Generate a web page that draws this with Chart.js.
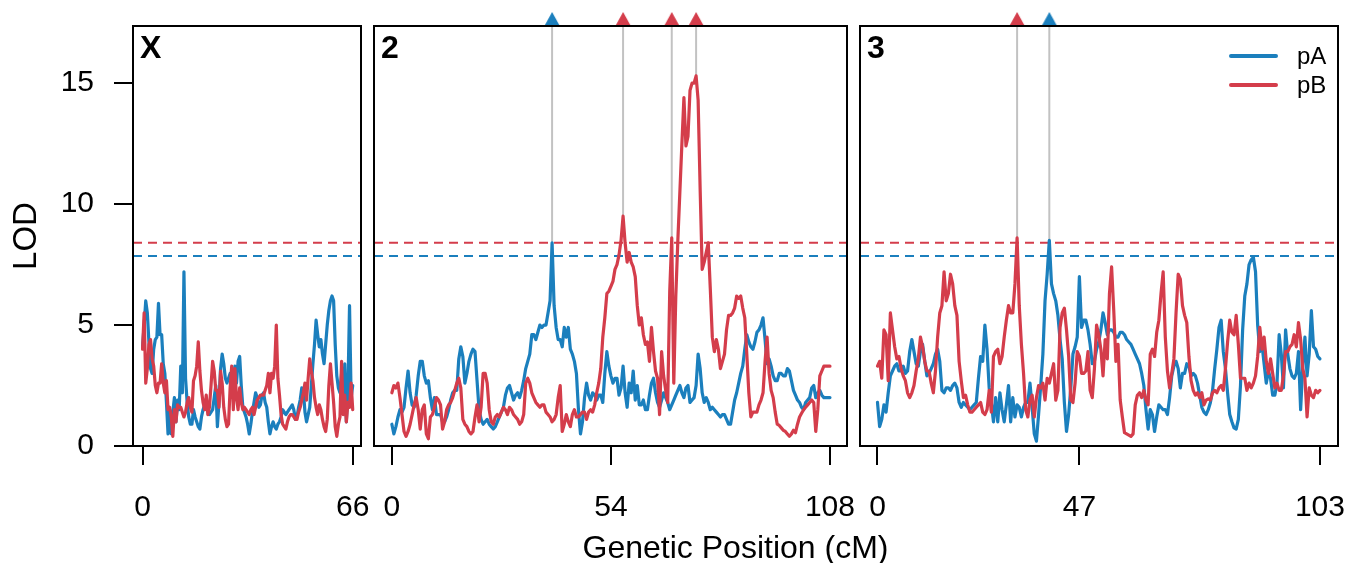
<!DOCTYPE html>
<html>
<head>
<meta charset="utf-8">
<script src="https://cdn.jsdelivr.net/npm/chart.js@4.4.1/dist/chart.umd.min.js"></script>
<style>
html,body{margin:0;padding:0;background:#fff;}
#wrap{position:relative;width:1348px;height:563px;overflow:hidden;background:#fff;font-family:"Liberation Sans",Arial,Helvetica,sans-serif;}
#wrap canvas{position:absolute;left:0;top:0;}
#xtitle{position:absolute;left:435px;width:601px;top:529px;text-align:center;font-size:32px;line-height:36px;color:#000;white-space:nowrap;}
</style>
</head>
<body>
<div id="wrap">
<canvas id="cX" width="1348" height="563"></canvas>
<canvas id="c2" width="1348" height="563"></canvas>
<canvas id="c3" width="1348" height="563"></canvas>
<div id="xtitle">Genetic Position (cM)</div>
</div>
<script>
// ---------- data ----------
const seriesNames = ['pA', 'pB'];
const yTicks = [0, 5, 10, 15];
const Y_MAX = 17.36;
const thrA = 7.85;   // pA significance threshold
const thrB = 8.4;    // pB significance threshold

const chrLabels = ['X', '2', '3'];
const xTicksX = [0, 66];
const xTicks2 = [0, 54, 108];
const xTicks3 = [0, 47, 103];

// pseudomarker grid (cM)
const gridPos = [
0,0.5,1,1.5,2,2.5,3,3.5,4,4.5,5,5.5,6,6.5,7,7.5,8,8.5,9,9.5,
10,10.5,11,11.5,12,12.5,13,13.5,14,14.5,15,15.5,16,16.5,17,17.5,18,18.5,19,19.5,
20,20.5,21,21.5,22,22.5,23,23.5,24,24.5,25,25.5,26,26.5,27,27.5,28,28.5,29,29.5,
30,30.5,31,31.5,32,32.5,33,33.5,34,34.5,35,35.5,36,36.5,37,37.5,38,38.5,39,39.5,
40,40.5,41,41.5,42,42.5,43,43.5,44,44.5,45,45.5,46,46.5,47,47.5,48,48.5,49,49.5,
50,50.5,51,51.5,52,52.5,53,53.5,54,54.5,55,55.5,56,56.5,57,57.5,58,58.5,59,59.5,
60,60.5,61,61.5,62,62.5,63,63.5,64,64.5,65,65.5,66,66.5,67,67.5,68,68.5,69,69.5,
70,70.5,71,71.5,72,72.5,73,73.5,74,74.5,75,75.5,76,76.5,77,77.5,78,78.5,79,79.5,
80,80.5,81,81.5,82,82.5,83,83.5,84,84.5,85,85.5,86,86.5,87,87.5,88,88.5,89,89.5,
90,90.5,91,91.5,92,92.5,93,93.5,94,94.5,95,95.5,96,96.5,97,97.5,98,98.5,99,99.5,
100,100.5,101,101.5,102,102.5,103,103.5,104,104.5,105,105.5,106,106.5,107,107.5,108];
const posX = gridPos.slice(0, 133);
const pos2 = gridPos.slice(0, 217);
const pos3 = gridPos.slice(0, 207);

// chromosome X
const lodX_pA = [
4.1,5.0,6.0,5.5,4.3,3.2,3.0,4.0,4.4,4.5,
5.9,4.6,4.6,3.4,3.0,1.8,0.5,1.5,0.5,1.4,
2.0,1.0,1.9,1.5,3.3,2.2,7.2,2.8,1.8,1.2,
0.9,0.9,1.5,1.2,1.0,0.8,0.7,1.2,1.5,1.7,
1.8,1.5,1.3,1.4,1.5,2.0,2.5,0.8,1.8,3.2,
3.8,3.4,2.8,2.6,2.8,3.0,2.7,2.6,3.3,2.6,
3.5,3.7,2.5,1.6,1.4,1.2,0.9,0.5,0.9,1.4,
1.8,2.2,2.0,1.6,1.7,2.1,2.2,1.8,1.6,1.0,
0.5,0.8,1.0,0.8,0.7,0.9,1.0,1.2,1.5,1.4,
1.3,1.4,1.5,1.6,1.7,1.5,1.1,1.2,1.6,1.9,
2.4,2.3,1.4,1.0,1.3,1.6,2.5,3.4,4.2,5.2,
4.6,4.1,4.4,3.8,3.4,4.2,5.0,5.6,6.0,6.2,
6.0,4.2,2.9,2.4,2.2,3.0,1.6,3.4,1.0,2.4,
5.8,2.0,2.5];
const lodX_pB = [
4.0,5.5,2.6,3.2,4.2,4.4,3.6,3.3,2.5,2.2,
2.6,2.6,3.4,2.6,2.2,2.7,1.5,1.6,1.2,0.4,
1.5,1.0,1.7,1.6,1.6,1.4,1.2,1.4,1.8,2.0,
1.6,1.4,2.7,2.9,3.3,4.3,3.1,2.3,1.8,1.5,
2.1,1.3,1.6,2.5,3.5,3.1,2.3,2.3,1.6,3.1,
2.6,1.6,1.1,0.8,0.9,2.4,3.3,1.5,3.2,2.0,
1.5,2.4,1.8,1.5,1.6,1.5,1.4,1.3,1.5,1.6,
1.3,1.6,1.9,2.0,2.1,2.1,2.1,2.3,2.5,3.0,
2.2,3.0,2.8,3.3,5.0,2.8,2.1,1.3,0.9,0.8,
0.7,1.0,1.2,1.3,1.3,1.2,1.1,1.1,1.4,1.6,
1.9,2.2,2.6,1.9,2.8,3.6,3.1,2.7,2.0,1.6,
1.3,1.7,1.5,1.1,0.8,0.6,1.1,2.5,3.4,2.6,
1.8,0.8,0.4,0.9,1.2,3.5,1.3,2.1,1.0,1.8,
1.6,2.6,1.5];

// chromosome 2
const lod2_pA = [
0.9,0.5,0.8,1.2,1.5,1.4,1.6,2.4,3.1,2.2,
1.7,1.6,2.1,2.9,3.5,3.5,2.9,2.6,2.7,2.0,
1.5,2.0,1.3,1.3,1.3,1.0,1.0,1.2,1.5,1.9,
2.2,2.3,2.3,3.6,4.1,3.7,2.6,3.0,3.5,3.8,
4.0,3.9,2.7,1.5,1.1,0.9,1.0,1.1,0.9,0.8,
0.7,0.8,1.0,1.2,1.4,1.6,2.1,2.4,2.5,2.2,
1.9,2.1,2.2,2.0,2.3,2.7,3.2,3.5,3.8,4.6,
4.6,4.4,4.7,5.0,4.9,5.0,5.0,5.5,6.0,8.4,
5.8,4.9,4.4,4.4,4.1,4.9,4.5,4.9,4.0,3.8,
3.5,3.0,1.5,0.5,1.0,2.0,2.6,2.1,1.9,2.2,
2.1,1.9,2.1,2.1,1.8,3.0,3.9,3.3,2.9,2.6,
2.8,2.8,2.1,2.4,3.3,2.2,1.6,2.6,2.2,3.1,
1.9,2.5,1.7,1.7,1.9,1.5,1.5,2.1,2.6,2.8,
2.2,1.8,1.6,1.9,2.2,2.0,1.8,1.5,1.7,1.9,
2.1,2.3,2.5,2.2,2.0,2.4,2.5,1.8,1.9,2.0,
2.5,3.8,3.2,2.2,1.8,2.0,1.8,1.5,1.6,1.5,
1.4,1.3,1.2,1.3,1.3,1.1,0.9,0.9,1.4,1.9,
2.2,2.6,3.0,3.3,4.0,4.6,4.3,4.1,4.0,4.3,
4.7,4.8,5.0,5.3,4.4,3.4,3.6,3.3,2.9,2.7,
2.7,3.0,3.0,2.9,2.9,3.2,3.1,2.7,2.3,2.1,
1.9,1.8,1.6,1.5,1.8,1.9,2.0,2.4,2.5,2.0,
2.2,2.3,2.1,2.0,2.0,2.0,2.0];
const lod2_pB = [
2.2,2.5,2.4,2.6,2.0,1.3,0.6,0.4,0.6,0.9,
1.3,1.7,2.0,1.5,0.7,1.5,1.7,0.5,0.3,1.2,
1.3,1.6,2.0,1.9,1.7,0.7,1.0,1.5,1.7,1.8,
2.0,2.3,2.6,2.8,2.4,1.1,0.9,0.8,0.6,0.5,
0.6,1.2,1.7,1.0,1.6,3.0,3.0,2.6,1.5,1.0,
0.9,1.2,1.3,1.2,1.4,1.6,1.5,1.3,1.6,1.5,
1.3,1.2,1.1,0.9,1.0,1.3,2.6,2.8,2.6,2.2,
2.0,1.8,1.7,1.6,1.7,1.7,1.4,1.3,1.2,1.0,
1.1,1.3,2.0,2.5,0.6,0.9,1.3,1.0,0.8,1.3,
1.5,1.2,1.2,1.3,1.4,1.4,1.1,1.4,1.5,1.4,
1.7,2.2,2.6,3.2,4.5,5.3,6.3,6.4,6.6,6.8,
7.3,7.5,7.9,8.5,9.5,8.4,7.6,8.0,7.6,7.4,
7.0,5.8,5.0,5.3,4.6,4.2,4.3,3.5,4.9,3.9,
3.1,2.8,1.3,3.9,2.9,2.3,1.8,6.4,8.6,2.6,
6.2,8.5,10.5,12.5,14.4,12.4,12.8,14.7,15.0,15.0,
15.3,14.3,10.6,7.3,7.6,8.0,8.4,6.5,4.5,3.9,
4.4,4.0,3.2,3.5,3.8,4.8,5.4,5.4,5.5,5.7,
6.2,6.1,6.2,5.7,5.3,3.8,2.2,1.2,1.4,1.4,
1.4,1.7,1.9,2.2,3.5,4.5,3.0,2.3,2.0,1.4,
0.9,0.85,0.75,0.65,0.6,0.5,0.4,0.5,0.65,0.55,
0.9,1.2,1.35,1.5,1.6,1.7,1.8,1.9,1.8,0.6,
1.5,2.9,3.1,3.3,3.3,3.3,3.3];

// chromosome 3
const lod3_pA = [
1.8,0.8,1.1,1.7,1.4,2.2,2.9,3.1,3.3,3.4,
3.1,3.1,3.3,3.0,3.1,3.9,4.4,3.9,3.4,3.3,
3.9,4.2,3.5,2.9,3.0,3.2,3.4,3.8,4.0,3.5,
2.3,2.2,2.4,2.4,2.3,2.5,2.6,2.4,1.8,1.6,
1.8,1.7,1.6,1.5,1.6,1.7,1.8,2.8,3.7,3.5,
5.0,4.0,2.4,1.8,1.0,2.0,1.0,2.2,1.5,1.0,
1.7,2.5,1.0,2.0,1.2,1.7,1.6,1.2,1.6,1.8,
1.8,2.6,1.6,0.5,0.2,1.3,2.5,3.8,6.0,7.1,
8.5,6.7,6.3,6.0,5.4,4.4,3.6,1.8,0.6,1.3,
2.4,3.8,4.1,4.5,7.0,4.9,5.2,5.2,4.8,4.2,
3.4,3.5,4.0,4.3,4.8,5.5,5.1,4.6,4.8,4.8,
4.7,4.5,4.5,4.7,4.7,4.6,4.4,4.3,4.2,4.0,
3.8,3.6,3.4,3.0,2.5,1.5,0.7,1.5,1.3,0.6,
1.2,1.7,1.6,1.5,1.5,1.3,2.0,2.9,3.3,3.5,
3.2,2.4,3.0,3.0,3.4,3.3,2.9,3.0,2.9,2.6,
2.1,1.6,1.4,1.3,1.5,1.8,2.3,3.2,4.0,4.9,
5.2,3.9,3.2,2.2,1.3,1.0,0.75,0.7,1.1,2.5,
4.8,6.2,6.7,7.5,7.7,7.8,7.2,5.0,3.9,4.2,
3.4,2.6,3.1,2.8,2.1,2.1,2.6,4.6,3.8,2.4,
4.8,3.8,3.2,2.9,2.8,3.0,3.9,1.5,3.3,4.5,
2.9,3.8,5.6,4.1,4.0,3.7,3.6];
const lod3_pB = [
3.3,3.5,2.8,4.8,4.6,2.7,5.5,4.8,4.1,3.6,
3.7,3.2,2.9,2.7,2.2,2.0,2.2,2.5,3.1,3.6,
4.5,4.1,3.5,3.1,3.1,2.6,2.2,3.1,4.5,5.5,
5.8,7.2,6.0,6.3,7.1,6.7,5.8,5.4,3.5,2.7,
2.0,2.1,1.7,1.4,1.4,1.5,1.6,1.7,1.8,1.4,
1.3,1.5,2.3,1.4,3.7,3.9,4.0,3.4,3.7,4.5,
5.2,5.8,5.5,5.5,6.7,8.6,5.8,4.2,3.0,1.5,
1.2,1.9,2.1,1.2,2.0,2.5,2.4,2.6,1.9,2.8,
2.6,3.0,3.4,1.9,2.3,4.9,5.5,5.7,4.8,3.7,
1.9,1.8,2.6,3.9,3.7,3.0,3.0,3.1,3.9,2.3,
2.0,3.2,5.0,4.6,4.0,2.9,4.4,3.6,6.3,7.4,
5.6,3.5,4.2,1.9,1.2,0.55,0.5,0.45,0.4,0.5,
1.7,2.1,2.2,2.0,2.3,1.9,1.7,3.8,4.0,3.7,
4.7,5.2,6.3,7.2,4.5,3.1,2.4,3.0,3.6,5.5,
7.1,6.9,5.8,5.4,5.1,3.7,2.7,2.3,2.1,2.2,
2.0,2.2,1.7,1.9,1.95,1.9,2.2,2.3,2.2,2.4,
2.5,2.3,3.2,4.3,5.2,4.7,4.6,5.4,4.2,2.8,
2.8,2.8,2.3,2.6,2.4,2.6,2.9,3.7,4.9,4.0,
4.5,3.5,3.0,3.6,3.0,2.4,2.6,2.3,2.3,2.9,
3.9,3.9,4.1,4.2,4.6,4.1,5.1,4.4,3.2,2.8,
1.2,2.4,2.1,2.0,2.3,2.2,2.3];

// detected QTL peaks (position in cM, which series)
const peaks2Pos = [39.5, 57, 69, 75];
const peaks2Ser = ['pA', 'pB', 'pB', 'pB'];
const peaks3Pos = [32.5, 40];
const peaks3Ser = ['pB', 'pA'];

// ---------- style ----------
const COL = { pA: '#1b7fbd', pB: '#d43d4b' };
const FONT = '"Liberation Sans", Arial, Helvetica, sans-serif';
Chart.defaults.font.family = FONT;
Chart.defaults.color = '#000';

function pts(pos, vals) { return pos.map((p, i) => ({ x: p, y: vals[i] })); }

function triangleImg(color) {
  const c = document.createElement('canvas');
  c.width = 18; c.height = 30;
  const g = c.getContext('2d');
  g.fillStyle = color;
  g.beginPath();
  g.moveTo(9, 1); g.lineTo(17, 15.5); g.lineTo(1, 15.5);
  g.closePath(); g.fill();
  return c;
}
const TRI = { pA: triangleImg(COL.pA), pB: triangleImg(COL.pB) };

const boxPlugin = {
  id: 'panelBox',
  afterDatasetsDraw(chart) {
    const { ctx, chartArea: a } = chart;
    ctx.save();
    ctx.strokeStyle = '#000';
    ctx.lineWidth = 2;
    ctx.strokeRect(a.left, a.top, a.right - a.left, a.bottom - a.top);
    ctx.restore();
  }
};
const labelPlugin = {
  id: 'panelLabel',
  afterDraw(chart, args, opts) {
    if (!opts || !opts.text) return;
    const { ctx, chartArea: a } = chart;
    ctx.save();
    ctx.fillStyle = '#000';
    ctx.font = 'bold 32px ' + FONT;
    ctx.textAlign = 'left';
    ctx.textBaseline = 'alphabetic';
    ctx.fillText(opts.text, a.left + 7, a.top + 32);
    ctx.restore();
  }
};
const insideLegend = {
  id: 'insideLegend',
  afterDraw(chart, args, opts) {
    if (!opts || !opts.display) return;
    const { ctx, chartArea: a } = chart;
    const items = chart.data.datasets.filter(d => d.inLegend);
    items.sort((p, q) => seriesNames.indexOf(p.label) - seriesNames.indexOf(q.label));
    ctx.save();
    items.forEach((d, i) => {
      const y = a.top + 30 + i * 29;
      ctx.strokeStyle = d.borderColor;
      ctx.lineWidth = 4;
      ctx.lineCap = 'round';
      ctx.beginPath();
      ctx.moveTo(a.right - 107, y);
      ctx.lineTo(a.right - 62, y);
      ctx.stroke();
      ctx.fillStyle = '#000';
      ctx.font = '24px ' + FONT;
      ctx.textAlign = 'left';
      ctx.textBaseline = 'middle';
      ctx.fillText(d.label, a.right - 41, y + 1);
    });
    ctx.restore();
  }
};

function buildPanel(id, p) {
  const datasets = [];
  const series = { pA: p.pA, pB: p.pB };
  const curve = { borderWidth: 3.2, pointRadius: 0, tension: 0,
    borderJoinStyle: 'round', borderCapStyle: 'round' };
  datasets.push(Object.assign({ label: 'pB', inLegend: true, data: pts(p.pos, p.pB),
    borderColor: COL.pB, order: 1 }, curve));
  datasets.push(Object.assign({ label: 'pA', inLegend: true, data: pts(p.pos, p.pA),
    borderColor: COL.pA, order: 2 }, curve));
  datasets.push({ label: 'thrB', data: [{ x: p.xMin, y: thrB }, { x: p.xMax, y: thrB }],
    borderColor: COL.pB, borderWidth: 2, borderDash: [9, 6], pointRadius: 0, order: 3 });
  datasets.push({ label: 'thrA', data: [{ x: p.xMin, y: thrA }, { x: p.xMax, y: thrA }],
    borderColor: COL.pA, borderWidth: 2, borderDash: [9, 6], pointRadius: 0, order: 3 });
  (p.peakPos || []).forEach((pp, i) => {
    const s = p.peakSer[i];
    const idx = p.pos.indexOf(pp);
    const lod = series[s][idx];
    datasets.push({ label: 'peakline', data: [{ x: pp, y: lod }, { x: pp, y: Y_MAX }],
      borderColor: '#c2c2c2', borderWidth: 2, pointRadius: 0, order: 4 });
    datasets.push({ label: 'peak', type: 'scatter', data: [{ x: pp, y: Y_MAX }], clip: false,
      pointStyle: TRI[s], pointRadius: 9, showLine: false, order: 0 });
  });

  return new Chart(document.getElementById(id), {
    type: 'line',
    data: { datasets },
    plugins: [boxPlugin, labelPlugin, insideLegend],
    options: {
      responsive: false,
      animation: false,
      devicePixelRatio: 1,
      events: [],
      layout: { padding: p.pad },
      plugins: {
        legend: { display: false },
        tooltip: { enabled: false },
        panelLabel: { text: p.label },
        insideLegend: { display: !!p.legend }
      },
      scales: {
        x: {
          type: 'linear', min: p.xMin, max: p.xMax,
          afterBuildTicks: s => { s.ticks = p.xTicks.map(v => ({ value: v })); },
          afterFit: s => { s.height = 117; s.paddingLeft = 0; s.paddingRight = 0; s.paddingTop = 0; s.paddingBottom = 0; },
          grid: { display: true, drawOnChartArea: false, drawTicks: true, tickLength: 19,
            tickWidth: 2, tickColor: '#000', lineWidth: 2 },
          border: { display: false },
          ticks: { font: { size: 30 }, color: '#000', padding: 25, maxRotation: 0,
            autoSkip: false, callback: v => String(v) }
        },
        y: {
          type: 'linear', min: 0, max: Y_MAX, display: !!p.showY,
          afterBuildTicks: s => { s.ticks = yTicks.map(v => ({ value: v })); },
          afterFit: s => { s.width = p.showY ? 133 : 0; s.paddingLeft = 0; s.paddingRight = 0; s.paddingTop = 0; s.paddingBottom = 0; },
          grid: { display: true, drawOnChartArea: false, drawTicks: true, tickLength: 19,
            tickWidth: 2, tickColor: '#000', lineWidth: 2 },
          border: { display: false },
          ticks: { font: { size: 30 }, color: '#000', padding: 20, autoSkip: false,
            callback: v => String(v) },
          title: { display: true, text: 'LOD', font: { size: 33 }, color: '#000',
            padding: { top: 7, bottom: 0 } }
        }
      }
    }
  });
}

buildPanel('cX', { label: chrLabels[0], pos: posX, pA: lodX_pA, pB: lodX_pB,
  xMin: -3.0, xMax: 68.6, xTicks: xTicksX, showY: true,
  pad: { left: 0, right: 987, top: 26, bottom: 0 } });
buildPanel('c2', { label: chrLabels[1], pos: pos2, pA: lod2_pA, pB: lod2_pB,
  xMin: -4.4, xMax: 112.2, xTicks: xTicks2, peakPos: peaks2Pos, peakSer: peaks2Ser,
  pad: { left: 374, right: 501, top: 26, bottom: 0 } });
buildPanel('c3', { label: chrLabels[2], pos: pos3, pA: lod3_pA, pB: lod3_pB,
  xMin: -4.07, xMax: 107.2, xTicks: xTicks3, peakPos: peaks3Pos, peakSer: peaks3Ser,
  legend: true, pad: { left: 860, right: 10, top: 26, bottom: 0 } });
</script>
</body>
</html>
